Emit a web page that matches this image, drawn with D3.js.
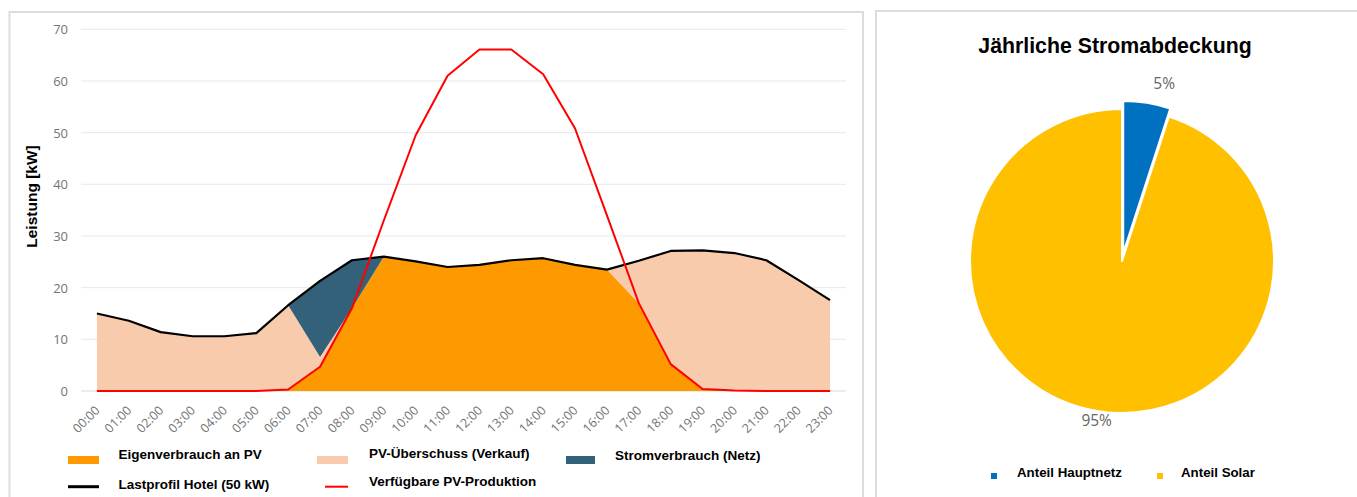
<!DOCTYPE html>
<html>
<head>
<meta charset="utf-8">
<script src="https://cdn.jsdelivr.net/npm/d3@7"></script>
<style>
  html, body { margin: 0; padding: 0; background: #fff; }
  svg { display: block; }
</style>
</head>
<body>
<svg id="chart" width="1357" height="497"></svg>
<script>
// ---------- DATA ----------
const hours = ["00:00","01:00","02:00","03:00","04:00","05:00","06:00","07:00","08:00","09:00","10:00","11:00",
               "12:00","13:00","14:00","15:00","16:00","17:00","18:00","19:00","20:00","21:00","22:00","23:00"];
const loadProfile     = [15.0,13.6,11.4,10.6,10.6,11.2,16.6,21.3,25.3,26.0,25.1,24.0,24.4,25.3,25.7,24.4,23.5,25.2,27.1,27.2,26.7,25.3,21.5,17.6];
const pvProduction    = [0,0,0,0,0,0,0.3,4.7,16.0,33.0,49.5,61.0,66.1,66.1,61.3,50.8,34.0,17.0,5.2,0.4,0.1,0,0,0];
const selfConsumption = [0,0,0,0,0,0,0.3,4.7,16.0,26.0,25.1,24.0,24.4,25.3,25.7,24.4,23.5,17.0,5.2,0.4,0.1,0,0,0];
const pvSurplus       = [15.0,13.6,11.4,10.6,10.6,11.2,16.3,1.9,0,0,0,0,0,0,0,0,0,8.2,21.9,26.8,26.6,25.3,21.5,17.6];
const gridConsumption = [0,0,0,0,0,0,0,14.7,9.3,0,0,0,0,0,0,0,0,0,0,0,0,0,0,0];
const yTicks = [0,10,20,30,40,50,60,70];
const areaSeriesNames = ["Eigenverbrauch an PV","PV-Überschuss (Verkauf)","Stromverbrauch (Netz)"];
const lineSeriesNames = ["Lastprofil Hotel (50 kW)","Verfügbare PV-Produktion"];
const yAxisTitle = "Leistung [kW]";

const pieTitle = "Jährliche Stromabdeckung";
const pieLabels = ["Anteil Hauptnetz","Anteil Solar"];
const pieValues = [5,95];

// ---------- STYLE ----------
const areaColors = ["#FF9900","#F8CBAD","#33617A"];
const lineColors = ["#000000","#FF0000"];
const pieColors = ["#0070C0","#FFC000"];
const tickColor = "#737373";
const boldFont = "'Liberation Sans', Arial, sans-serif";
const tickFont = "'Open Sans', 'DejaVu Sans', sans-serif";

const svg = d3.select("#chart");

// panel borders
svg.append("rect").attr("x",9.5).attr("y",12).attr("width",853.5).attr("height",520)
  .attr("fill","none").attr("stroke","#dcdcdc").attr("stroke-width",2);
svg.append("rect").attr("x",876).attr("y",11).attr("width",500).attr("height",520)
  .attr("fill","none").attr("stroke","#dcdcdc").attr("stroke-width",2);

// ---------- LEFT CHART ----------
const x = d3.scalePoint().domain(hours).range([81, 846]).padding(0.5);
const y = d3.scaleLinear().domain([0,70]).range([391, 29.3]);

const g = svg.append("g");

// gridlines
g.append("g").selectAll("line").data(yTicks).join("line")
  .attr("x1",81).attr("x2",846)
  .attr("y1",d=>y(d)).attr("y2",d=>y(d))
  .attr("stroke", d => d===0 ? "#d9d9d9" : "#e8e8e8").attr("stroke-width",1);

// y tick labels
const yAxis = d3.axisLeft(y).tickValues(yTicks).tickSize(0).tickPadding(0);
const yg = g.append("g").attr("transform","translate(68,0)").call(yAxis);
yg.select(".domain").remove();
yg.selectAll("text").attr("fill",tickColor).style("font-family",tickFont).style("font-size","13px").attr("dy","0.34em");

// y title
g.append("text").attr("transform","translate(37,196.5) rotate(-90)")
  .attr("text-anchor","middle").style("font-family",boldFont).style("font-weight","bold")
  .style("font-size","15.5px").attr("fill","#000").text(yAxisTitle);

// stacked areas
const table = hours.map((h,i)=>({hour:h, s0:selfConsumption[i], s1:pvSurplus[i], s2:gridConsumption[i]}));
const stack = d3.stack().keys(["s0","s1","s2"]);
const stacked = stack(table);
const area = d3.area()
  .x(d=>x(d.data.hour)).y0(d=>y(d[0])).y1(d=>y(d[1])).curve(d3.curveLinear);
g.append("g").selectAll("path").data(stacked).join("path")
  .attr("d",area).attr("fill",(d,i)=>areaColors[i]);

// lines
const line = d3.line().x((d,i)=>x(hours[i])).y(d=>y(d));
g.append("path").attr("d",line(loadProfile)).attr("fill","none")
  .attr("stroke",lineColors[0]).attr("stroke-width",2.2).attr("stroke-linejoin","round");
g.append("path").attr("d",line(pvProduction)).attr("fill","none")
  .attr("stroke",lineColors[1]).attr("stroke-width",2).attr("stroke-linejoin","round");

// x tick labels
const xAxis = d3.axisBottom(x).tickSize(0).tickPadding(0);
const xg = g.append("g").attr("transform","translate(0,408)").call(xAxis);
xg.select(".domain").remove();
xg.selectAll("text").attr("fill",tickColor).style("font-family",tickFont).style("font-size","12.5px")
  .attr("text-anchor","end").attr("y",0).attr("dy","0.35em").attr("transform","rotate(-45)");

// legend
const legend = [
  {type:"rect", color:areaColors[0], sx:68, sw:31, sy:456, tx:118.5, ty:459, label:areaSeriesNames[0]},
  {type:"rect", color:areaColors[1], sx:317, sw:31, sy:456, tx:369, ty:457.5, label:areaSeriesNames[1]},
  {type:"rect", color:areaColors[2], sx:566, sw:29, sy:456, tx:615, ty:459.5, label:areaSeriesNames[2]},
  {type:"line", color:lineColors[0], sx:68, sw:31, sy:486.7, tx:118.5, ty:488.5, label:lineSeriesNames[0], w:3},
  {type:"line", color:lineColors[1], sx:325, sw:23, sy:486.7, tx:369, ty:485.5, label:lineSeriesNames[1], w:2}
];
const lg = g.append("g");
legend.forEach(l=>{
  if(l.type==="rect"){
    lg.append("rect").attr("x",l.sx).attr("y",l.sy).attr("width",l.sw).attr("height",8).attr("fill",l.color);
  } else {
    lg.append("line").attr("x1",l.sx).attr("x2",l.sx+l.sw).attr("y1",l.sy).attr("y2",l.sy)
      .attr("stroke",l.color).attr("stroke-width",l.w);
  }
  lg.append("text").attr("x",l.tx).attr("y",l.ty).style("font-family",boldFont).style("font-weight","bold")
    .style("font-size","13.5px").attr("fill","#000").text(l.label);
});

// ---------- PIE ----------
const cx = 1122, cy = 261, r = 152;
svg.append("text").attr("x",1115).attr("y",53).attr("text-anchor","middle")
  .style("font-family",boldFont).style("font-weight","bold").style("font-size","21.3px").attr("fill","#000")
  .text(pieTitle);

const pie = d3.pie().sort(null).value(d=>d)(pieValues);
const arc = d3.arc().innerRadius(0).outerRadius(r);
const explode = [8, 0];
const pg = svg.append("g").attr("transform",`translate(${cx},${cy})`);
pg.selectAll("path").data(pie).join("path")
  .attr("d",arc)
  .attr("fill",(d,i)=>pieColors[i])
  .attr("stroke","#fff").attr("stroke-width",2).attr("stroke-linejoin","round")
  .attr("transform",(d,i)=>{
    const a=(d.startAngle+d.endAngle)/2;
    return `translate(${Math.sin(a)*explode[i]},${-Math.cos(a)*explode[i]})`;
  });

// percent labels (outside end)
const labelRadius = [r+20, r+10];
const labelNudge = [[14,0],[0,0]];
pg.selectAll("text.pct").data(pie).join("text").attr("class","pct")
  .attr("x",(d,i)=>{const a=(d.startAngle+d.endAngle)/2; return Math.sin(a)*(labelRadius[i]+explode[i])+labelNudge[i][0];})
  .attr("y",(d,i)=>{const a=(d.startAngle+d.endAngle)/2; return -Math.cos(a)*(labelRadius[i]+explode[i])+labelNudge[i][1];})
  .attr("text-anchor","middle").attr("dy","0.35em")
  .style("font-family",tickFont).style("font-size","15.5px").attr("fill","#666")
  .text(d=>Math.round(d.value/d3.sum(pieValues)*100)+"%");

// pie legend
const pl = svg.append("g");
const plItems = [{sx:991, tx:1017},{sx:1157, tx:1181}];
pieLabels.forEach((lab,i)=>{
  pl.append("rect").attr("x",plItems[i].sx).attr("y",473).attr("width",6).attr("height",6).attr("fill",pieColors[i]);
  pl.append("text").attr("x",plItems[i].tx).attr("y",477).style("font-family",boldFont).style("font-weight","bold")
    .style("font-size","13.3px").attr("fill","#000").text(lab);
});
</script>
</body>
</html>
